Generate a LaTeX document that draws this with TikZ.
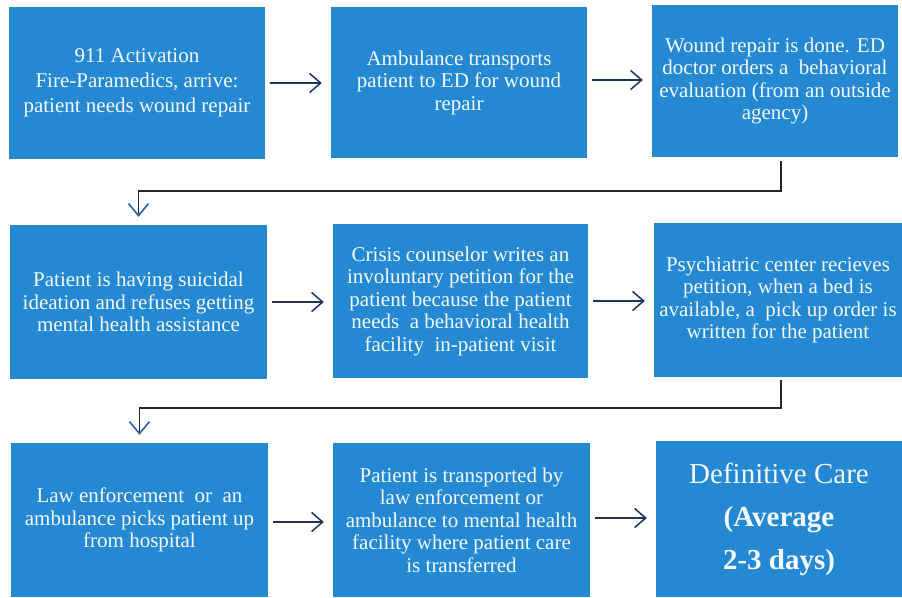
\documentclass[tikz,border=0pt]{standalone}
\usepackage{fontspec}
\setmainfont{Liberation Serif}
\usetikzlibrary{arrows.meta}
\definecolor{boxblue}{RGB}{36,137,210}
\definecolor{navy}{RGB}{30,50,95}
\definecolor{tipblue}{RGB}{40,95,165}
\begin{document}
\begin{tikzpicture}[x=1pt,y=-1pt,
  box/.style={rectangle, fill=boxblue, draw=none, text=white!95!boxblue, align=center,
    font=\fontsize{21}{22.5}\selectfont, inner sep=2pt},
  harr/.style={draw=navy, line width=1.4pt,
    -{Straight Barb[length=11pt,width=19pt,line width=1.5pt]}, shorten <=5pt, shorten >=9pt},
  elb/.style={draw=black!85, line width=1.3pt,
    -{Straight Barb[length=12pt,width=20pt,color=tipblue,line width=1.6pt]}}
]
\useasboundingbox (0,0) rectangle (902,597);

% row 1
\node[box, minimum width=256pt, minimum height=152pt, font=\fontsize{21}{25}\selectfont] (a1) at (137,83)
  {911 Activation\\ Fire-Paramedics, arrive:\\ patient needs wound repair};
\node[box, minimum width=256pt, minimum height=151pt] (b1) at (459,82.5)
  {Ambulance transports\\ patient to ED for wound\\ repair};
\node[box, minimum width=246pt, minimum height=152pt] (c1) at (775,81)
  {Wound repair is done. ED\\ doctor orders a \ behavioral\\ evaluation (from an outside\\ agency)};

% row 2
\node[box, minimum width=257pt, minimum height=154pt] (a2) at (138.5,302)
  {Patient is having suicidal\\ ideation and refuses getting\\ mental health assistance};
\node[box, minimum width=255pt, minimum height=154pt] (b2) at (460.5,301)
  {Crisis counselor writes an\\ involuntary petition for the\\ patient because the patient\\ needs \ a behavioral health\\ facility \ in-patient visit};
\node[box, minimum width=248pt, minimum height=154pt] (c2) at (778,300)
  {Psychiatric center recieves\\ petition, when a bed is\\ available, a \ pick up order is\\ written for the patient};

% row 3
\node[box, minimum width=257pt, minimum height=154pt] (a3) at (139.5,520)
  {Law enforcement \ or \ an\\ ambulance picks patient up\\ from hospital};
\node[box, minimum width=257pt, minimum height=154pt] (b3) at (461.5,520)
  {Patient is transported by\\ law enforcement or\\ ambulance to mental health\\ facility where patient care\\ is transferred};
\node[box, minimum width=246pt, minimum height=156pt, font=\fontsize{29}{43}\selectfont] (c3) at (779,519)
  {Definitive Care\\ \textbf{(Average}\\ \textbf{2-3 days)}};

% horizontal arrows
\draw[harr] (a1.east) -- (a1.east -| b1.west);
\draw[harr] (b1.east |- 0,80) -- (c1.west |- 0,80);
\draw[harr] (a2.east) -- (a2.east -| b2.west);
\draw[harr] (b2.east) -- (b2.east -| c2.west);
\draw[harr] (a3.east |- 0,522) -- (b3.west |- 0,522);
\draw[harr] (b3.east |- 0,518) -- (c3.west |- 0,518);

% elbow connectors
\coordinate (k1) at (781,191);
\draw[elb, shorten <=4pt, shorten >=8pt] (c1.south -| k1) -- (k1) -| (a2.north);
\coordinate (k2) at (781,408);
\draw[elb, shorten <=3pt, shorten >=8pt] (c2.south -| k2) -- (k2) -| (a3.north);
\end{tikzpicture}
\end{document}
